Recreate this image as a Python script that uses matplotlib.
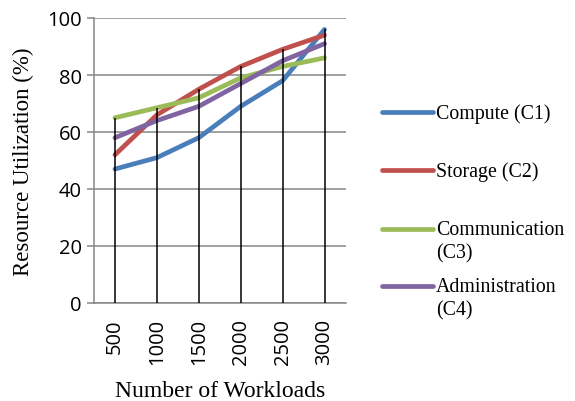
import matplotlib.pyplot as plt
from matplotlib.lines import Line2D

workloads = ['500', '1000', '1500', '2000', '2500', '3000']
compute = [47, 51, 58, 69, 78, 96]
storage = [52, 66, 75, 83, 89, 94]
communication = [65, 68.5, 72, 79, 83, 86]
administration = [58, 64, 69, 77, 85, 91]

names = ['Compute (C1)', 'Storage (C2)', 'Communication\n(C3)', 'Administration\n(C4)']
colors = ['#4A7EBB', '#C0504D', '#9BBB59', '#8064A2']
series = [compute, storage, communication, administration]

fig = plt.figure(figsize=(5.75, 4.02), dpi=100)
ax = fig.add_axes([94/575, 98/402, 251.5/575, 285/402])

x = list(range(len(workloads)))
for vals, c in zip(series, colors):
    ax.plot(x, vals, color=c, lw=3.4, solid_capstyle='round', zorder=3)

# drop lines from the highest series down to the axis
tops = [max(v) for v in zip(*series)]
ax.vlines(x, 0, tops, color='black', lw=1.1, zorder=4)

ax.set_xlim(-0.5, len(workloads) - 0.5)
ax.set_ylim(0, 100)
ax.set_yticks(range(0, 101, 20))
ax.set_xticks(x)
ax.set_xticklabels(workloads, rotation=90, fontsize=14.5, family='Open Sans')
for lab in ax.get_yticklabels():
    lab.set_family('Open Sans')
    lab.set_fontsize(14.5)
ax.tick_params(axis='x', length=0, pad=11)
ax.tick_params(axis='y', length=5, color='#868686', width=1.1, pad=4)
ax.grid(axis='y', color='#868686', lw=1.1, zorder=1)
ax.set_axisbelow(True)
for s in ['top', 'right']:
    ax.spines[s].set_visible(False)
for s in ['left', 'bottom']:
    ax.spines[s].set_color('#868686')
    ax.spines[s].set_linewidth(1.1)

ax.set_ylabel('Resource Utilization (%)', family='Liberation Serif', fontsize=16.5, labelpad=9)
ax.set_xlabel('Number of Workloads', family='Liberation Serif', fontsize=17, labelpad=11)

# legend drawn by hand so the key sits on the first text line
legend_y = [113, 171, 230, 287]
for name, c, yy in zip(names, colors, legend_y):
    fy = 1 - yy / 402
    fig.add_artist(Line2D([382/575, 433/575], [fy, fy], color=c, lw=3.4,
                          solid_capstyle='round'))
    fig.text(436/575, fy + 9/402, name, family='Liberation Serif', fontsize=14.3,
             va='top', ha='left', linespacing=1.32)

fig.savefig('out.png', dpi=100)
